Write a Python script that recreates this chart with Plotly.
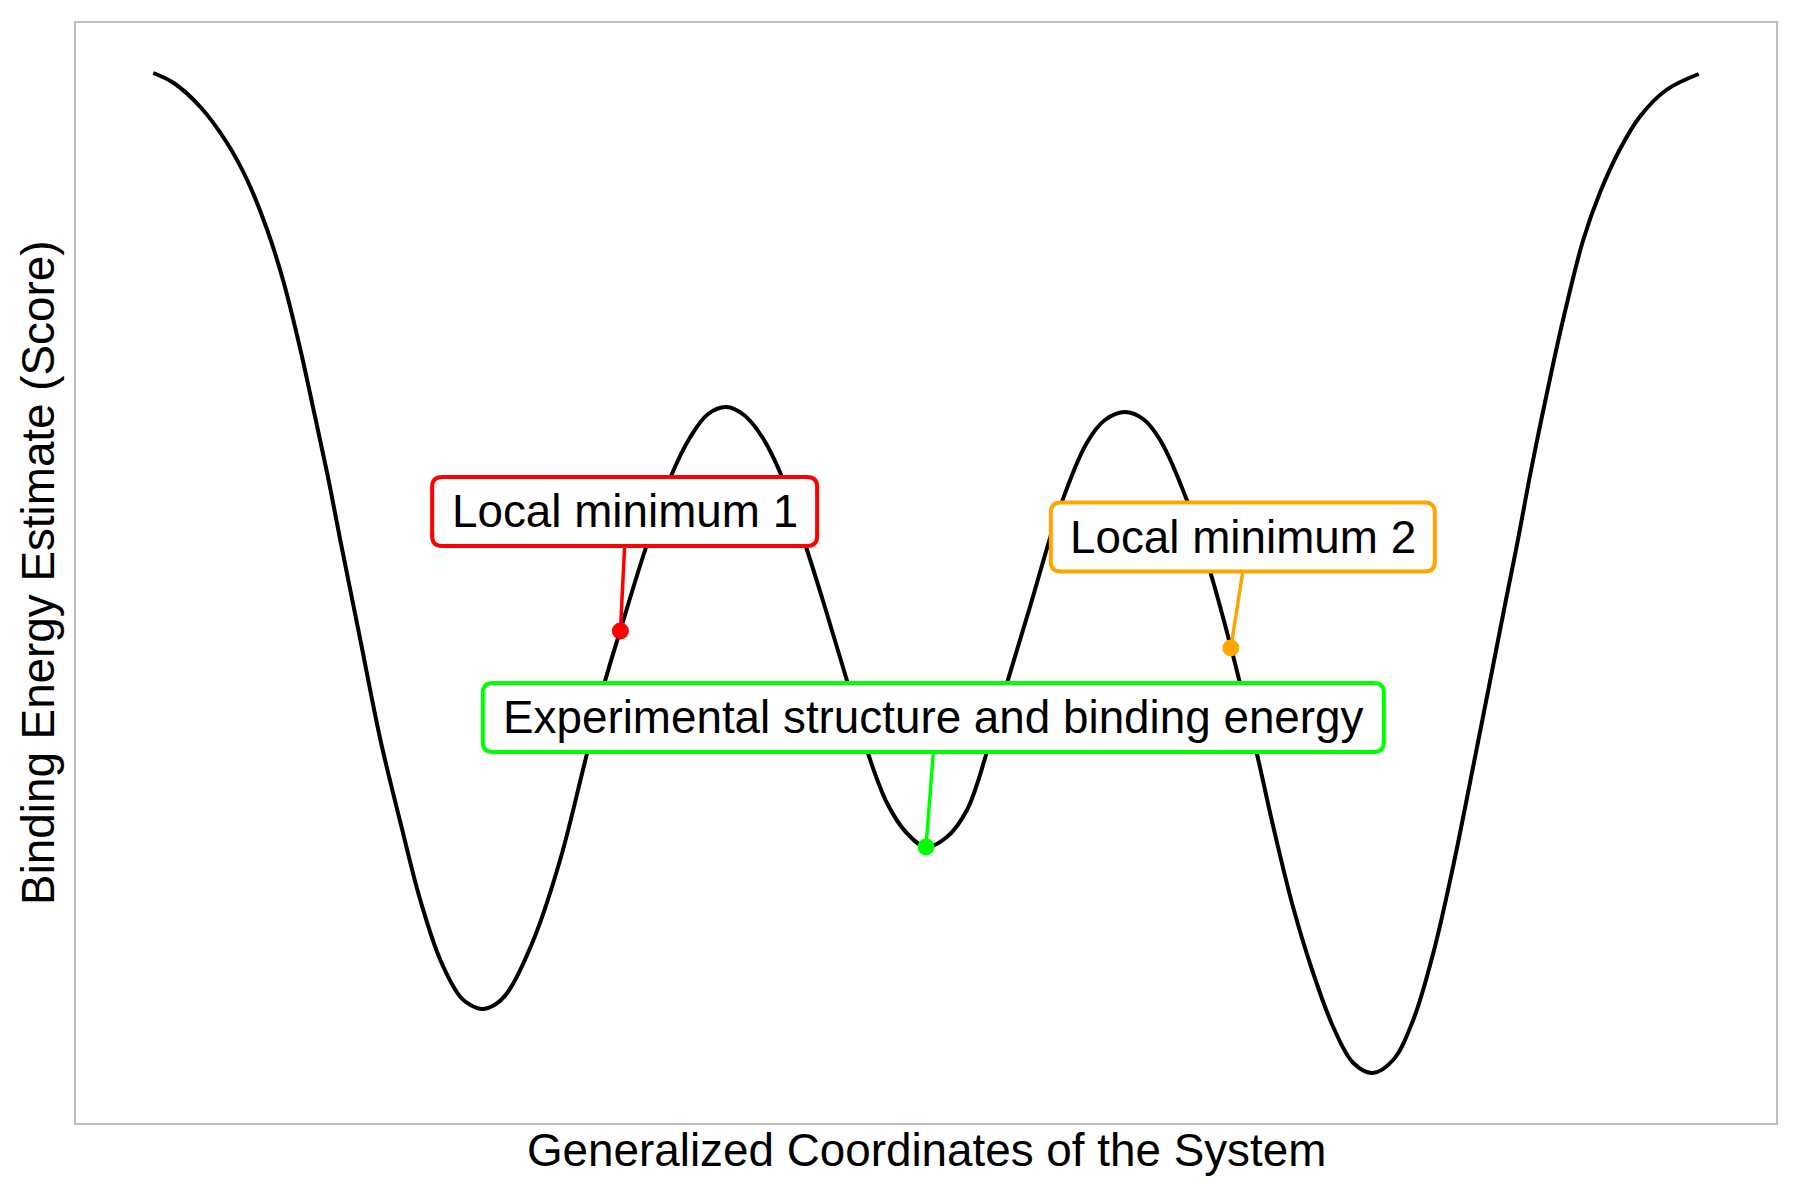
import plotly.graph_objects as go

# ---- data ----
coord_x = [-2.000, -1.947, -1.878, -1.809, -1.757, -1.705, -1.662, -1.619, -1.585, -1.550,
           -1.516, -1.464, -1.412, -1.360, -1.309, -1.257, -1.205, -1.179, -1.149,
           -1.117, -1.084, -1.016, -0.947, -0.886, -0.835, -0.791, -0.727, -0.662, -0.610,
           -0.564, -0.517,
           -0.471, -0.424, -0.377, -0.308, -0.257, -0.205, -0.153, -0.101, -0.050, 0.000,
           0.054, 0.106, 0.157, 0.209, 0.269, 0.347, 0.416, 0.463, 0.515, 0.562,
           0.606, 0.675, 0.735, 0.789, 0.856, 0.899, 0.950, 1.002, 1.054, 1.106,
           1.156, 1.209, 1.261, 1.313, 1.364, 1.416, 1.462, 1.501, 1.532, 1.561,
           1.594, 1.627, 1.661, 1.701, 1.744, 1.795, 1.847, 1.916, 2.000]
score = [10.00, 9.90, 9.66, 9.30, 8.93, 8.43, 7.90, 7.23, 6.63, 6.00,
         5.33, 4.33, 3.33, 2.50, 1.73, 1.13, 0.76, 0.68, 0.64,
         0.68, 0.80, 1.33, 2.13, 3.06, 3.86, 4.43, 5.23, 5.95, 6.36,
         6.59, 6.66,
         6.58, 6.36, 6.00, 5.23, 4.60, 3.93, 3.23, 2.70, 2.40, 2.26,
         2.36, 2.63, 3.20, 3.89, 4.66, 5.66, 6.30, 6.53, 6.61, 6.54,
         6.33, 5.73, 5.02, 4.26, 3.20, 2.46, 1.66, 1.00, 0.46, 0.10,
         0.00, 0.13, 0.53, 1.20, 2.06, 3.06, 3.96, 4.73, 5.33, 5.93,
         6.56, 7.16, 7.73, 8.33, 8.80, 9.23, 9.56, 9.83, 9.99]

point_x = [-0.791, 0.789, 0.000]
point_y = [4.42, 4.25, 2.26]
point_labels = ["Local minimum 1", "Local minimum 2", "Experimental structure and binding energy"]
label_x = [-0.780, 0.820, 0.019]
label_y = [5.615, 5.36, 3.555]

# ---- styles ----
point_colors = ["#FF0000", "#FFA500", "#00FF00"]
box_widths = [385, 384, 901]
box_height = 69
box_radius = 10
FONT = "Liberation Sans, Arial, Helvetica, sans-serif"
FS = 45.8

W, H = 1800, 1200
ML, MR, MT, MB = 76, 24, 23, 77
XR = [-2.2, 2.2]
YR = [-0.5, 10.5]
px_per_y = (H - MT - MB) / (YR[1] - YR[0])

fig = go.Figure()
fig.add_trace(go.Scatter(x=coord_x, y=score, mode="lines",
                         line=dict(color="black", width=4, shape="spline", smoothing=1.0),
                         hoverinfo="skip", showlegend=False))
fig.add_trace(go.Scatter(x=point_x, y=point_y, mode="markers",
                         marker=dict(color=point_colors, size=17, line=dict(width=0)),
                         showlegend=False))


def rounded_path(w, h, r):
    a, b = w / 2, h / 2
    return (f"M {-a + r},{-b} L {a - r},{-b} Q {a},{-b} {a},{-b + r} "
            f"L {a},{b - r} Q {a},{b} {a - r},{b} L {-a + r},{b} Q {-a},{b} {-a},{b - r} "
            f"L {-a},{-b + r} Q {-a},{-b} {-a + r},{-b} Z")


shapes = []
annotations = []
for px_, py_, txt, cx, cy, col, bw in zip(point_x, point_y, point_labels, label_x, label_y,
                                          point_colors, box_widths):
    shapes.append(dict(type="line", xref="x", yref="y", layer="above",
                       x0=cx, y0=cy - (box_height / 2) / px_per_y, x1=px_, y1=py_,
                       line=dict(color=col, width=3.5)))
    shapes.append(dict(type="path", xref="x", yref="y", layer="above",
                       xsizemode="pixel", ysizemode="pixel", xanchor=cx, yanchor=cy,
                       path=rounded_path(bw, box_height, box_radius),
                       line=dict(color=col, width=4), fillcolor="white"))
    annotations.append(dict(x=cx, y=cy, xref="x", yref="y", text=txt, showarrow=False,
                            xanchor="center", yanchor="middle",
                            font=dict(family=FONT, size=FS, color="black")))

annotations.append(dict(x=0.5, y=-0.025, xref="paper", yref="paper",
                        text="Generalized Coordinates of the System", showarrow=False,
                        xanchor="center", yanchor="middle",
                        font=dict(family=FONT, size=FS, color="black")))
annotations.append(dict(x=-0.0224, y=0.5, xref="paper", yref="paper",
                        text="Binding Energy Estimate (Score)", showarrow=False, textangle=-90,
                        xanchor="center", yanchor="middle",
                        font=dict(family=FONT, size=FS, color="black")))

axis_style = dict(showgrid=False, zeroline=False, showticklabels=False, ticks="",
                  showline=True, mirror=True, linecolor="#bdbdbd", linewidth=2, fixedrange=True)
fig.update_layout(
    width=W, height=H,
    margin=dict(l=ML, r=MR, t=MT, b=MB, pad=0),
    paper_bgcolor="white", plot_bgcolor="white",
    xaxis=dict(range=XR, **axis_style),
    yaxis=dict(range=YR, **axis_style),
    shapes=shapes, annotations=annotations,
    showlegend=False,
)

fig.write_html("out.html")
